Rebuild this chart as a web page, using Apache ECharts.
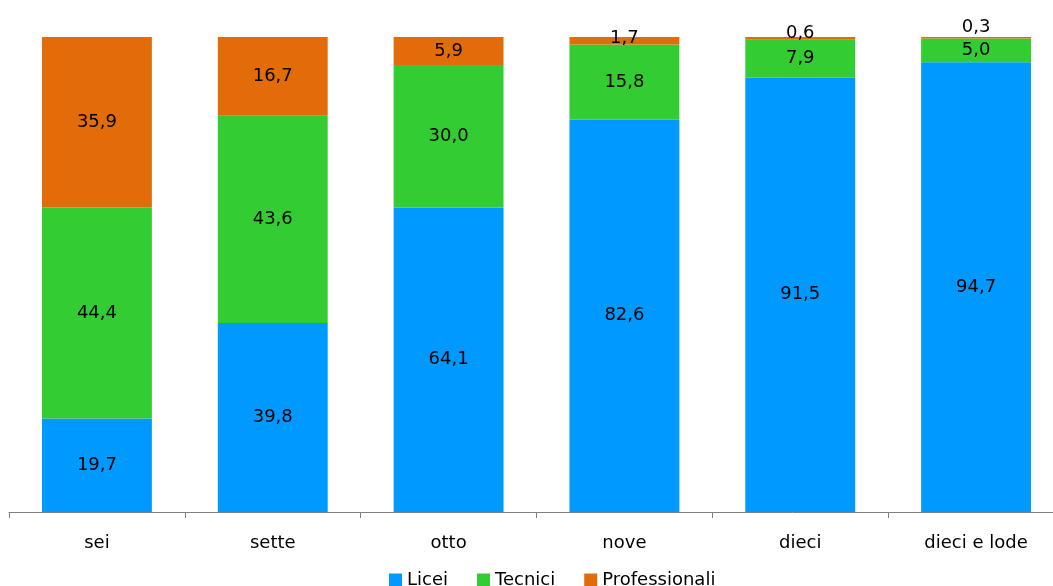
<!DOCTYPE html>
<html><head><meta charset="utf-8">
<script src="https://cdn.jsdelivr.net/npm/echarts@6/dist/echarts.min.js"></script>
<style>html,body{margin:0;padding:0;background:#fff}#c{width:1053px;height:586px}</style>
</head><body><div id="c"></div>
<script>
const categories = ['sei', 'sette', 'otto', 'nove', 'dieci', 'dieci e lode'];
const licei = [19.7, 39.8, 64.1, 82.6, 91.5, 94.7];
const tecnici = [44.4, 43.6, 30.0, 15.8, 7.9, 5.0];
const professionali = [35.9, 16.7, 5.9, 1.7, 0.6, 0.3];
const legendNames = ['Licei', 'Tecnici', 'Professionali'];

const FONT = 'DejaVu Sans';
const fmt = p => p.value.toFixed(1).replace('.', ',');
const lbl = {show: true, position: 'inside', color: '#000', fontSize: 18, fontFamily: FONT, formatter: fmt};

const profData = professionali.map((v, i) => {
  if (v < 3) {
    const offs = {3: [0, 10], 4: [0, 5], 5: [0, -1]};
    return {value: v, label: {position: 'top', distance: 0, offset: offs[i] || [0, 0]}};
  }
  return v;
});

const chart = echarts.init(document.getElementById('c'));
chart.setOption({
  animation: false,
  grid: {left: 9, width: 1055, top: 37, bottom: 74, containLabel: false, outerBoundsMode: 'none'},
  legend: {
    top: 566, left: 384, itemWidth: 13, itemHeight: 13, itemGap: 29, icon: 'rect',
    textStyle: {fontSize: 18, fontFamily: FONT, color: '#000'},
    data: legendNames
  },
  xAxis: {
    type: 'category', data: categories,
    axisLine: {lineStyle: {color: '#808080', width: 1}},
    axisTick: {show: true, length: 6, lineStyle: {color: '#808080'}},
    axisLabel: {fontSize: 18, fontFamily: FONT, color: '#000', margin: 22}
  },
  yAxis: {type: 'value', min: 0, max: 100, show: false, splitLine: {show: false}},
  series: [
    {name: 'Licei', type: 'bar', stack: 's', barWidth: '62.5%', data: licei, itemStyle: {color: '#0099FF'}, label: lbl},
    {name: 'Tecnici', type: 'bar', stack: 's', data: tecnici, itemStyle: {color: '#33CC33'}, label: lbl},
    {name: 'Professionali', type: 'bar', stack: 's', data: profData, itemStyle: {color: '#E36C0A'}, label: lbl}
  ]
});
</script></body></html>
